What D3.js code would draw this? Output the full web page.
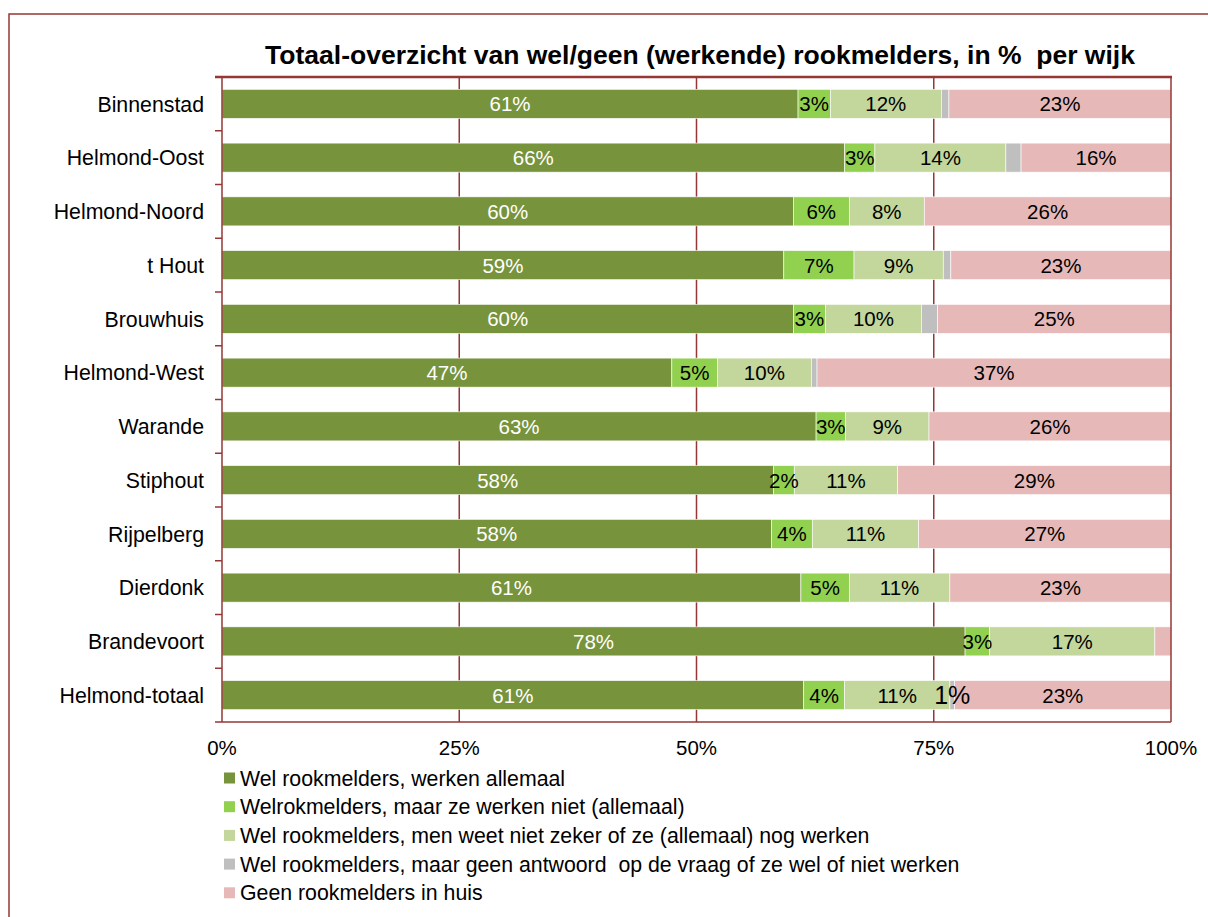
<!DOCTYPE html>
<html>
<head>
<meta charset="utf-8">
<script src="https://cdn.jsdelivr.net/npm/d3@7/dist/d3.min.js"></script>
<style>
  body { margin: 0; background: #fff; }
  svg { display: block; font-family: "Liberation Sans", Arial, sans-serif; }
  text { white-space: pre; }
</style>
</head>
<body>
<script>
(function(){

  //chart data (percent of households per district)
  var categories = ["Binnenstad", "Helmond-Oost", "Helmond-Noord", "t Hout", "Brouwhuis", "Helmond-West",
    "Warande", "Stiphout", "Rijpelberg", "Dierdonk", "Brandevoort", "Helmond-totaal"];
  var werkenAllemaal = [60.7, 65.6, 60.2, 59.2, 60.2, 47.4, 62.6, 58.1, 57.9, 61.0, 78.3, 61.3];
  var werkenNiet     = [3.4, 3.2, 5.9, 7.4, 3.4, 4.8, 3.1, 2.2, 4.3, 5.1, 2.6, 4.3];
  var weetNiet       = [11.7, 13.8, 7.9, 9.4, 10.1, 9.9, 8.8, 10.9, 11.2, 10.6, 17.4, 11.1];
  var geenAntwoord   = [0.8, 1.6, 0.0, 0.8, 1.7, 0.6, 0.0, 0.0, 0.0, 0.0, 0.0, 0.5];
  var geenMelders    = [23.4, 15.8, 26.0, 23.2, 24.6, 37.3, 25.5, 28.8, 26.6, 23.3, 1.7, 22.8];
  var xTicks = [0, 25, 50, 75, 100];

  var seriesKeys = ["werkenAllemaal", "werkenNiet", "weetNiet", "geenAntwoord", "geenMelders"];
  var seriesNames = [
    "Wel rookmelders, werken allemaal",
    "Welrokmelders, maar ze werken niet (allemaal)",
    "Wel rookmelders, men weet niet zeker of ze (allemaal) nog werken",
    "Wel rookmelders, maar geen antwoord  op de vraag of ze wel of niet werken",
    "Geen rookmelders in huis"
  ];
  var colors = ["#77933c", "#92d050", "#c3d69b", "#bfbfbf", "#e6b9b8"];
  var extraLabels = [{cat: "Helmond-totaal", key: "geenAntwoord"}]; //small segments that still carry a label

  var red = "#953735";
  var width = 1208, height = 917;
  var plot = {left: 222, right: 1171, top: 77, bottom: 722};

  //build rows for the stack layout
  var rows = categories.map(function(c, i){
    return {cat: c, werkenAllemaal: werkenAllemaal[i], werkenNiet: werkenNiet[i],
      weetNiet: weetNiet[i], geenAntwoord: geenAntwoord[i], geenMelders: geenMelders[i]};
  });

  var svg = d3.select("body").append("svg")
    .attr("width", width)
    .attr("height", height);

  //outer chart frame
  svg.append("rect")
    .attr("x", 9).attr("y", 14)
    .attr("width", width + 20).attr("height", height + 20)
    .attr("fill", "none").attr("stroke", red).attr("stroke-width", 1.5);

  svg.append("text")
    .attr("x", 700).attr("y", 64)
    .attr("text-anchor", "middle")
    .style("font-size", "26.5px").style("font-weight", "bold")
    .text("Totaal-overzicht van wel/geen (werkende) rookmelders, in %  per wijk");

  var x = d3.scaleLinear().domain([0, 100]).range([plot.left, plot.right]);
  var y = d3.scaleBand().domain(categories).range([plot.top, plot.bottom]).paddingInner(0.46).paddingOuter(0.23);
  var band = d3.scaleBand().domain(categories).range([plot.top, plot.bottom]); //full bands for ticks

  //vertical gridlines behind the bars
  svg.append("g").selectAll("line")
    .data(xTicks.slice(1, -1))
    .enter().append("line")
    .attr("x1", function(d){ return x(d); }).attr("x2", function(d){ return x(d); })
    .attr("y1", plot.top).attr("y2", plot.bottom)
    .attr("stroke", red).attr("stroke-width", 1.5);

  var stack = d3.stack().keys(seriesKeys)(rows);

  var layers = svg.append("g").selectAll("g")
    .data(stack)
    .enter().append("g")
    .attr("fill", function(d, i){ return colors[i]; });

  layers.selectAll("rect")
    .data(function(d){ return d; })
    .enter().append("rect")
    .attr("x", function(d){ return x(d[0]); })
    .attr("width", function(d){ return x(d[1]) - x(d[0]); })
    .attr("y", function(d){ return y(d.data.cat); })
    .attr("height", y.bandwidth())
    .attr("stroke", "#fff").attr("stroke-width", 0.6);

  //value labels in the segments
  stack.forEach(function(layer, li){
    var key = seriesKeys[li];
    layer.forEach(function(d){
      var v = d.data[key];
      var extra = extraLabels.some(function(e){ return e.cat == d.data.cat && e.key == key; });
      if (v < 2 && !extra) return;
      svg.append("text")
        .attr("x", (x(d[0]) + x(d[1])) / 2)
        .attr("y", y(d.data.cat) + y.bandwidth() / 2)
        .attr("dy", "0.36em")
        .attr("text-anchor", "middle")
        .attr("fill", li == 0 ? "#fff" : "#000")
        .style("font-size", extra ? "25px" : "20.5px")
        .text(Math.round(v) + "%");
    });
  });

  //axes frame: left axis with ticks, bottom axis, top and right border
  var axis = svg.append("g").attr("stroke", red).attr("stroke-width", 1.5);
  axis.append("line").attr("x1", plot.left).attr("x2", plot.left).attr("y1", plot.top).attr("y2", plot.bottom);
  axis.append("line").attr("x1", plot.right).attr("x2", plot.right).attr("y1", plot.top).attr("y2", plot.bottom);
  axis.append("line").attr("x1", 215).attr("x2", plot.right).attr("y1", plot.bottom).attr("y2", plot.bottom);
  axis.append("line").attr("x1", 215).attr("x2", plot.right + 1).attr("y1", plot.top).attr("y2", plot.top).attr("stroke-width", 2.5);
  axis.selectAll(".tick")
    .data(categories.slice(1))
    .enter().append("line")
    .attr("x1", 215).attr("x2", plot.left)
    .attr("y1", function(d){ return band(d); }).attr("y2", function(d){ return band(d); });

  //category labels
  svg.append("g").selectAll("text")
    .data(categories)
    .enter().append("text")
    .attr("x", 204)
    .attr("y", function(d){ return band(d) + band.bandwidth() / 2; })
    .attr("dy", "0.36em")
    .attr("text-anchor", "end")
    .style("font-size", "21.3px")
    .text(function(d){ return d; });

  //x tick labels
  svg.append("g").selectAll("text")
    .data(xTicks)
    .enter().append("text")
    .attr("x", function(d){ return x(d); })
    .attr("y", 755)
    .attr("text-anchor", "middle")
    .style("font-size", "20.5px")
    .text(function(d){ return d + "%"; });

  //legend
  var legend = svg.append("g").selectAll("g")
    .data(seriesNames)
    .enter().append("g")
    .attr("transform", function(d, i){ return "translate(224," + (778 + i * 28.7) + ")"; });

  legend.append("rect")
    .attr("x", 0).attr("y", -5.5)
    .attr("width", 11).attr("height", 11)
    .attr("fill", function(d, i){ return colors[i]; });

  legend.append("text")
    .attr("x", 16).attr("dy", "0.36em")
    .style("font-size", "21.3px")
    .text(function(d){ return d; });

})();
</script>
</body>
</html>
